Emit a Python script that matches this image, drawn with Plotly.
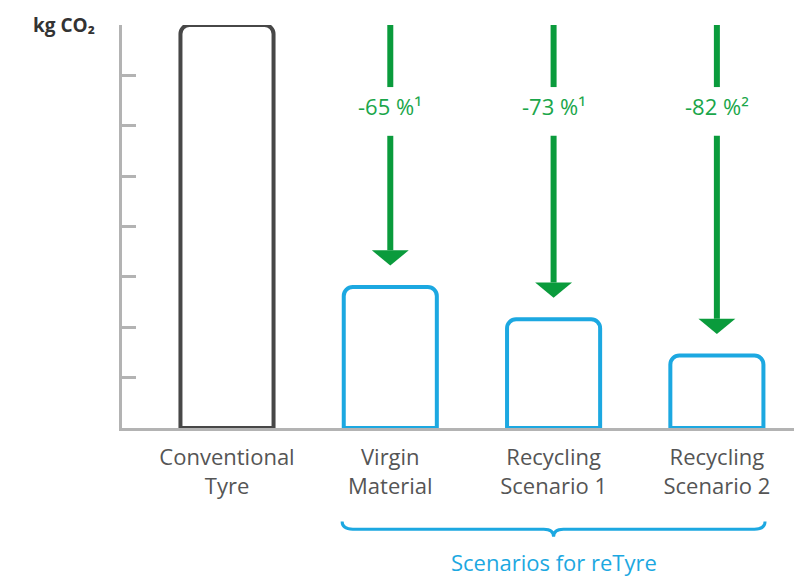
import plotly.graph_objects as go

# ---- data ----
categories = ["Conventional<br>Tyre", "Virgin<br>Material",
              "Recycling<br>Scenario 1", "Recycling<br>Scenario 2"]
emissions = [100, 35, 27, 18]
reduction_labels = ["-65 %¹", "-73 %¹", "-82 %²"]
y_ticks = [0, 12.5, 25, 37.5, 50, 62.5, 75, 87.5, 100]
y_title = "kg CO₂"
group_label = "Scenarios for reTyre"

# ---- styles ----
DARK = "#474747"
BLUE = "#1ca8e1"
GREEN = "#0a9b3c"
GREEN_TXT = "#1aa64a"
AXIS = "#b3b3b3"
TXT = "#555555"
FONT = "Open Sans"
BAR_W = 0.57

xpos = list(range(len(categories)))
bar_colors = [DARK] + [BLUE] * (len(categories) - 1)

fig = go.Figure()
fig.add_trace(go.Bar(
    x=xpos, y=emissions, width=BAR_W,
    marker=dict(color="rgba(0,0,0,0)", line=dict(color=bar_colors, width=4),
                cornerradius=9),
    showlegend=False, hoverinfo="skip",
))

shapes = []
annotations = []
top = max(emissions)
gap_top, gap_bot, label_y = 84.6, 72.5, 79.8
tip_offset, head_h, head_half = 5.3, 3.8, 0.113
for i, (val, lab) in enumerate(zip(emissions[1:], reduction_labels)):
    xi = xpos[i + 1]
    tip = val + tip_offset
    head_top = tip + head_h
    shapes.append(dict(type="line", x0=xi, x1=xi, y0=top, y1=gap_top,
                       line=dict(color=GREEN, width=6), xref="x", yref="y"))
    shapes.append(dict(type="line", x0=xi, x1=xi, y0=gap_bot, y1=head_top,
                       line=dict(color=GREEN, width=6), xref="x", yref="y"))
    shapes.append(dict(type="path",
                       path=f"M {xi-head_half},{head_top} L {xi+head_half},{head_top} L {xi},{tip} Z",
                       fillcolor=GREEN, line=dict(color=GREEN, width=0),
                       xref="x", yref="y"))
    annotations.append(dict(x=xi, y=label_y, xref="x", yref="y", text=lab,
                            showarrow=False, font=dict(family=FONT, size=22, color=GREEN_TXT)))

# brace under the reTyre scenarios
x0 = xpos[1] - BAR_W / 2 - 0.01
x1 = xpos[-1] + BAR_W / 2 + 0.01
xc = (xpos[1] + xpos[-1]) / 2
y_end, y_line, y_dip = -0.232, -0.251, -0.270
r, r2 = 0.065, 0.06
brace = (f"M {x0},{y_end} Q {x0},{y_line} {x0+r},{y_line} "
         f"L {xc-r2},{y_line} Q {xc},{y_line} {xc},{y_dip} "
         f"Q {xc},{y_line} {xc+r2},{y_line} "
         f"L {x1-r},{y_line} Q {x1},{y_line} {x1},{y_end}")
shapes.append(dict(type="path", path=brace, xref="x", yref="paper",
                   line=dict(color=BLUE, width=3)))
annotations.append(dict(x=xc, y=-0.333, xref="x", yref="paper", text=group_label,
                        xanchor="center", yanchor="middle",
                        showarrow=False, font=dict(family=FONT, size=22, color=BLUE)))
annotations.append(dict(x=-0.037, y=1.0, xref="paper", yref="paper", text=f"<b>{y_title}</b>",
                        xanchor="right", yanchor="middle", showarrow=False,
                        font=dict(family=FONT, size=19, color="#333333")))

fig.update_layout(
    width=794, height=569,
    margin=dict(l=114, r=2, t=17, b=149),
    plot_bgcolor="white", paper_bgcolor="white",
    shapes=shapes, annotations=annotations,
    xaxis=dict(range=[-0.643, 3.509], tickvals=xpos, ticktext=categories,
               showline=True, linecolor=AXIS, linewidth=3, ticks="",
               showgrid=False, zeroline=False, ticklabelstandoff=8,
               tickfont=dict(family=FONT, size=22, color=TXT)),
    yaxis=dict(range=[0, 100], tickvals=y_ticks, showticklabels=False,
               showline=True, linecolor=AXIS, linewidth=3,
               ticks="inside", ticklen=14, tickwidth=3, tickcolor=AXIS,
               showgrid=False, zeroline=False),
)

fig.write_html("out.html")
